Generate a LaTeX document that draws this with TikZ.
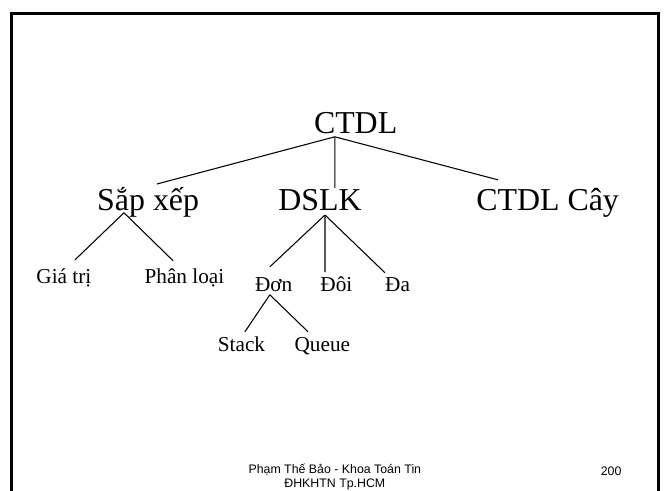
\documentclass[tikz,border=0pt]{standalone}
\usepackage{fontspec}
\setmainfont{Liberation Serif}
\setsansfont{Liberation Sans}
\usepackage{tikz}
\usetikzlibrary{calc}

\begin{document}
\begin{tikzpicture}[
  every node/.style={inner sep=0pt,anchor=base},
  big/.style={font=\fontsize{24}{28}\selectfont},
  small/.style={font=\fontsize{16}{19}\selectfont},
  branch/.style={line width=0.8pt},
  frame/.style={line width=2pt}
]
  \useasboundingbox (0,0) rectangle (17.57,12.99);
  \draw[frame] (0.30,0) |- (17.43,12.64) -- (17.43,0);

  % Gốc và ba nhánh chính.
  \node[big] (ctdl) at (9.41,9.45) {CTDL};
  \node[big] (sapxep) at (3.92,7.42) {Sắp xếp};
  \node[big] (dslk) at (8.47,7.42) {DSLK};
  \node[big] (cay) at (14.49,7.42) {CTDL Cây};

  \node[small] (giatri) at (1.69,5.50) {Giá trị};
  \node[small] (phanloai) at (4.88,5.50) {Phân loại};
  \node[small] (don) at (7.24,5.27) {Đơn};
  \node[small] (doi) at (8.90,5.27) {Đôi};
  \node[small] (da) at (10.52,5.27) {Đa};
  \node[small] (stack) at (6.39,3.70) {Stack};
  \node[small] (queue) at (8.53,3.70) {Queue};

  \draw[branch] ($(ctdl.base)+(-0.55,-0.08)$) -- ($(sapxep.base)+(0.23,0.70)$);
  \draw[branch] ($(ctdl.base)+(-0.55,-0.08)$) -- ($(dslk.base)+(0.39,0.60)$);
  \draw[branch] ($(ctdl.base)+(-0.55,-0.08)$) -- ($(cay.base)+(-1.31,0.81)$);

  \draw[branch] ($(sapxep.base)+(-0.64,-0.06)$) -- ($(giatri.base)+(0.29,0.61)$);
  \draw[branch] ($(sapxep.base)+(-0.64,-0.06)$) -- ($(phanloai.base)+(-0.30,0.59)$);

  \draw[branch] ($(dslk.base)+(0.13,-0.12)$) -- ($(don.base)+(-0.10,0.66)$);
  \draw[branch] ($(dslk.base)+(0.13,-0.12)$) -- ($(doi.base)+(-0.30,0.52)$);
  \draw[branch] ($(dslk.base)+(0.13,-0.12)$) -- ($(da.base)+(-0.33,0.50)$);

  \draw[branch] ($(don.base)+(-0.10,-0.08)$) -- ($(stack.base)+(0.09,0.51)$);
  \draw[branch] ($(don.base)+(-0.10,-0.08)$) -- ($(queue.base)+(-0.38,0.51)$);

  % Chân trang.
  \node[font=\sffamily\fontsize{9.3}{10.5}\selectfont,align=center,anchor=north]
    (footer) at (8.86,0.71) {Phạm Thế Bảo - Khoa Toán Tin\\ĐHKHTN Tp.HCM};
  \node[font=\sffamily\fontsize{9.3}{10.5}\selectfont] (trang) at (16.17,0.42) {200};
\end{tikzpicture}
\end{document}
